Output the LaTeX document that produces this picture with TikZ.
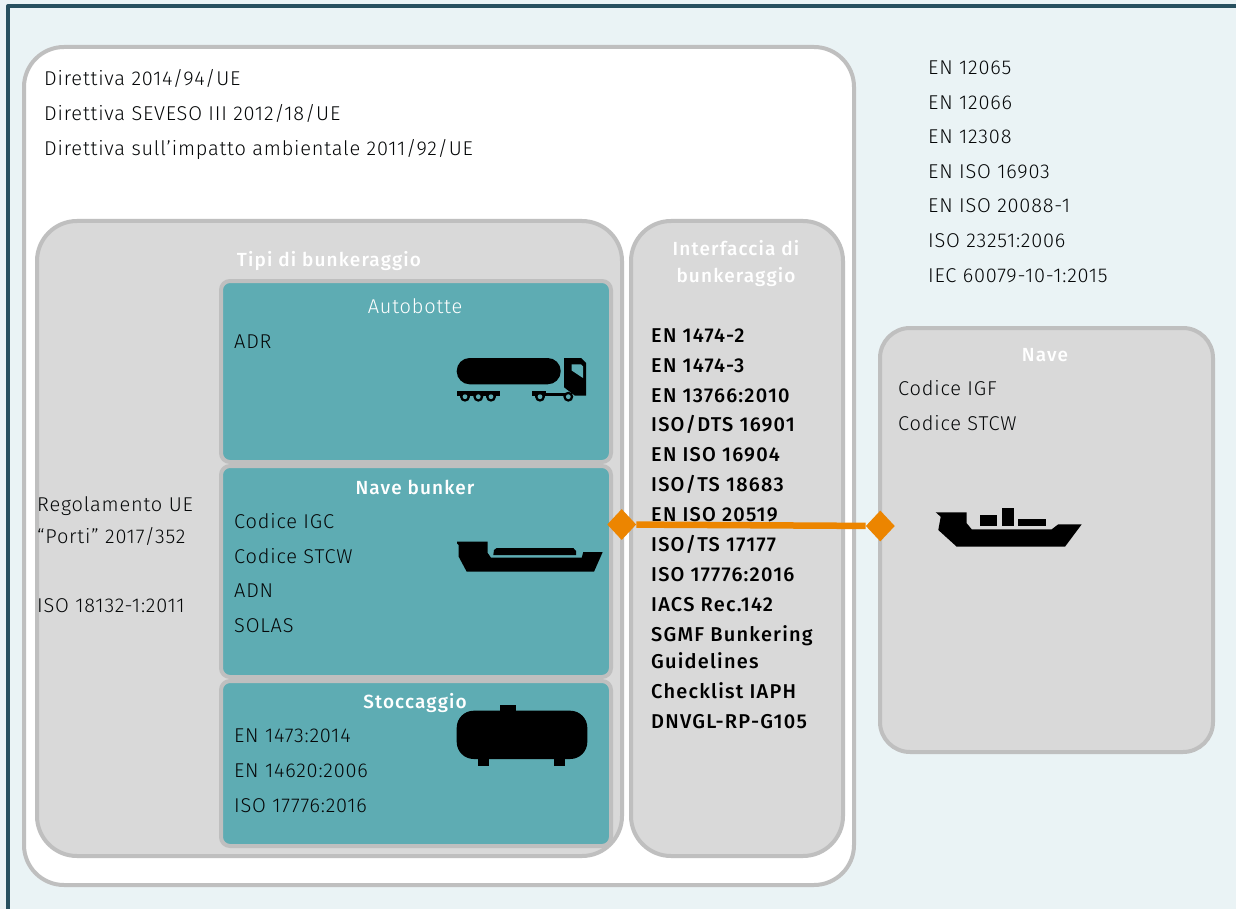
\documentclass[tikz,border=0pt]{standalone}
\usepackage{fontspec}
\setmainfont{Fira Sans}[UprightFont=* Light,BoldFont=* Medium,UprightFeatures={LetterSpace=4},BoldFeatures={LetterSpace=6}]
\usetikzlibrary{shapes.geometric}
\definecolor{lngFrame}{HTML}{27505F}
\definecolor{lngPaper}{HTML}{EAF3F5}
\definecolor{lngEdge}{HTML}{BFBFBF}
\definecolor{lngGrey}{HTML}{D9D9D9}
\definecolor{lngTeal}{HTML}{5EACB3}
\definecolor{lngOrange}{HTML}{EC8500}
\definecolor{lngInk}{HTML}{050708}
\begin{document}
\begin{tikzpicture}[x=1pt,y=-1pt,line join=round]
\useasboundingbox (0,0) rectangle (1236,909);
\tikzset{panel/.style={draw=lngEdge,fill=lngGrey,line width=4pt,rounded corners=40pt},tealbox/.style={draw=lngEdge,fill=lngTeal,line width=4pt,rounded corners=9pt},ref/.style={anchor=base west,inner sep=0pt,text=lngInk,font=\fontsize{20}{24}\selectfont},refbold/.style={ref,text=black,font=\fontsize{20}{24}\selectfont\bfseries},headlight/.style={anchor=base,inner sep=0pt,text=white,font=\fontsize{20}{24}\selectfont},head/.style={headlight,font=\fontsize{19}{24}\selectfont\bfseries},joint/.style={diamond,fill=lngOrange,inner sep=0pt,minimum width=29pt,minimum height=31pt},link/.style={draw=lngOrange,line width=6.5pt},icon/.style={fill=black}}
\path[fill=lngPaper] (0,0) rectangle (1236,909);
\draw[draw=lngFrame,line width=4pt] (8,909) -- (8,6) -- (1236,6);
\path[panel,fill=white] (24,47) rectangle (854,885);
\path[panel] (37,221) rectangle (622,856);
\path[panel] (631,221) rectangle (843,856);
\path[panel,rounded corners=30pt] (880,328) rectangle (1213,752);
\path[tealbox] (221,281) rectangle (611,462);
\path[tealbox] (221,466) rectangle (611,677);
\path[tealbox] (221,681) rectangle (611,846);
\node[ref] (dirA) at (44,86) {Direttiva 2014/94/UE};
\node[ref] (dirB) at (44,120.5) {Direttiva SEVESO III 2012/18/UE};
\node[ref] (dirC) at (44,155.5) {Direttiva sull'impatto ambientale 2011/92/UE};
\node[ref] (stdA) at (928,74.5) {EN 12065};
\node[ref] (stdB) at (928,109.5) {EN 12066};
\node[ref] (stdC) at (928,143.5) {EN 12308};
\node[ref] (stdD) at (928,178.5) {EN ISO 16903};
\node[ref] (stdE) at (928,213) {EN ISO 20088-1};
\node[ref] (stdF) at (928,247.5) {ISO 23251:2006};
\node[ref] (stdG) at (928,282) {IEC 60079-10-1:2015};
\node[ref] (regA) at (37,511) {Regolamento UE};
\node[ref] (regB) at (37,543) {“Porti” 2017/352};
\node[ref] (regC) at (37,612) {ISO 18132-1:2011};
\node[head] (tipi) at (329,266) {Tipi di bunkeraggio};
\node[headlight] (autobotte) at (415,313) {Autobotte};
\node[ref] (adr) at (234,348) {ADR};
\node[head] (bunker) at (415,494) {Nave bunker};
\node[ref] (igc) at (234,528) {Codice IGC};
\node[ref] (stcwA) at (234,563) {Codice STCW};
\node[ref] (adn) at (234,597) {ADN};
\node[ref] (solas) at (234,632) {SOLAS};
\node[head] (stoccaggio) at (415,708) {Stoccaggio};
\node[ref] (stoA) at (234,742) {EN 1473:2014};
\node[ref] (stoB) at (234,777) {EN 14620:2006};
\node[ref] (stoC) at (234,812) {ISO 17776:2016};
\node[head] (intA) at (736,255) {Interfaccia di};
\node[head] (intB) at (736,282) {bunkeraggio};
\node[refbold] (ifA) at (651,342) {EN 1474-2};
\node[refbold] (ifB) at (651,372) {EN 1474-3};
\node[refbold] (ifC) at (651,402) {EN 13766:2010};
\node[refbold] (ifD) at (651,431) {ISO/DTS 16901};
\node[refbold] (ifE) at (651,461) {EN ISO 16904};
\node[refbold] (ifF) at (651,491) {ISO/TS 18683};
\node[refbold] (ifG) at (651,521) {EN ISO 20519};
\node[refbold] (ifH) at (651,551) {ISO/TS 17177};
\node[refbold] (ifI) at (651,581) {ISO 17776:2016};
\node[refbold] (ifJ) at (651,611) {IACS Rec.142};
\node[refbold] (ifK) at (651,641) {SGMF Bunkering};
\node[refbold] (ifL) at (651,668) {Guidelines};
\node[refbold] (ifM) at (651,698) {Checklist IAPH};
\node[refbold] (ifN) at (651,728) {DNVGL-RP-G105};
\node[head] (nave) at (1045,361) {Nave};
\node[ref] (igf) at (898,395) {Codice IGF};
\node[ref] (stcwB) at (898,430) {Codice STCW};
\path[icon,rounded corners=13pt] (456.7,358) rectangle (560.7,384.3);
\path[icon] (564,358) -- (581,358) -- (586,363) -- (586,395.7) -- (575,395.7) -- (564,387.3) -- cycle;
\path[fill=lngTeal] (571.7,364.3) -- (581,364.3) -- (583,366.5) -- (583,378) -- (571.7,370.5) -- cycle;
\path[icon] (457,391) rectangle (500,395.7);
\path[icon] (532,391) rectangle (546,395.7);
\path[icon] (540,392.5) rectangle (570,395.7);
\foreach \wx in {465,478.3,491,540,568.3}{\path[icon] (\wx,396.7) circle (5pt); \path[fill=lngTeal] (\wx,396.7) circle (2.4pt);}
\path[icon] (457,541.5) -- (487.7,541.5) -- (487.7,553) -- (491,557.7) -- (581.7,557.7) -- (583.3,552) -- (602.7,552) -- (594,571.7) -- (466.7,571.7) -- (458.7,556.7) -- (458.7,545) -- (457,543.3) -- cycle;
\path[icon] (493.3,555) -- (494,550) -- (496.7,548) -- (573.3,548) -- (576,551) -- (576,555) -- cycle;
\path[icon,rounded corners=17pt] (456.7,710.7) rectangle (587.3,759);
\path[icon] (500,705) rectangle (516,712);
\path[icon] (478.3,757) rectangle (489,766);
\path[icon] (554.3,757) rectangle (565,766);
\path[icon] (935.7,512.3) -- (966.7,512.3) -- (966.7,523.3) -- (971.7,529.3) -- (1051.7,529.3) -- (1058.3,524.3) -- (1081.7,524.3) -- (1065,546.7) -- (956.7,546.7) -- (938.3,530) -- (940.7,516.7) -- cycle;
\path[icon] (980,515) rectangle (997.3,526);
\path[icon] (1002.3,508.3) rectangle (1013.7,526);
\path[icon] (1017.7,519.3) rectangle (1045.7,526);
\node[joint] (jointL) at (621.7,524.5) {};
\node[joint] (jointR) at (880.3,526) {};
\draw[link] (jointL) -- (jointR);
\end{tikzpicture}
\end{document}
